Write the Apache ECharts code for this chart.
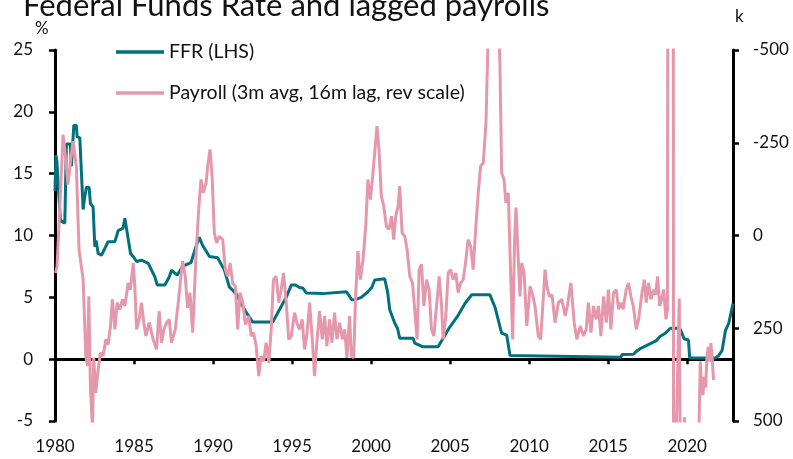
<!DOCTYPE html>
<html>
<head>
<meta charset="utf-8">
<script src="https://cdn.jsdelivr.net/npm/echarts@6/dist/echarts.min.js"></script>
<style>
  html, body { margin: 0; padding: 0; background: #fff; }
  #chart { width: 793px; height: 459px; }
</style>
</head>
<body>
<div id="chart"></div>
<script>
// x labels shown under the plot
const yearLabels = [1980, 1985, 1990, 1995, 2000, 2005, 2010, 2015, 2020];

// Fed funds rate, % (decimal year, value)
const ffrData = [
  [1980.00, 13.6], [1980.06, 16.5], [1980.12, 16.0], [1980.34, 11.2], [1980.62, 11.0],
  [1980.72, 17.4], [1980.97, 17.4], [1981.04, 15.6], [1981.19, 18.9], [1981.35, 18.9],
  [1981.40, 18.0], [1981.57, 17.9], [1981.78, 12.1], [1981.88, 13.1], [1981.99, 13.9],
  [1982.16, 13.9], [1982.24, 12.6], [1982.41, 12.3], [1982.52, 9.1], [1982.60, 9.6],
  [1982.73, 8.55], [1982.94, 8.4], [1983.25, 9.2], [1983.36, 9.5], [1983.79, 9.5],
  [1984.00, 10.4], [1984.31, 10.6], [1984.42, 11.4], [1984.52, 11.25], [1984.78, 8.55],
  [1984.95, 8.3], [1985.16, 7.9], [1985.47, 8.0], [1985.90, 7.75], [1986.11, 7.2],
  [1986.32, 6.65], [1986.47, 6.0], [1986.95, 6.0], [1987.23, 6.65], [1987.37, 7.2],
  [1987.55, 7.0], [1987.74, 6.8], [1988.07, 7.5], [1988.60, 7.8], [1988.92, 9.1],
  [1989.13, 9.85], [1989.34, 9.2], [1989.56, 8.75], [1989.77, 8.3], [1990.29, 8.2],
  [1990.72, 7.2], [1991.03, 5.85], [1991.46, 5.3], [1991.78, 4.5], [1992.09, 3.8],
  [1992.51, 3.0], [1993.78, 3.0], [1994.20, 4.0], [1994.63, 5.0], [1994.95, 6.0],
  [1995.22, 6.0], [1995.47, 5.8], [1995.68, 5.75], [1995.90, 5.35], [1996.95, 5.3],
  [1997.06, 5.45], [1998.43, 5.45], [1998.58, 5.2], [1998.77, 4.8], [1998.96, 4.8],
  [1999.38, 5.0], [1999.80, 5.45], [2000.04, 5.8], [2000.23, 6.4], [2000.34, 6.5],
  [2000.86, 6.5], [2001.05, 5.4], [2001.18, 4.0], [2001.50, 2.9], [2001.67, 2.5],
  [2001.81, 1.7], [2002.66, 1.7], [2002.76, 1.3], [2003.29, 1.0], [2004.24, 1.0],
  [2004.56, 1.7], [2004.98, 2.6], [2005.51, 3.55], [2005.94, 4.5], [2006.36, 5.2],
  [2007.52, 5.2], [2007.84, 4.2], [2008.05, 3.15], [2008.26, 2.1], [2008.58, 1.95],
  [2008.79, 0.3], [2008.88, 0.15], [2015.80, 0.15], [2015.88, 0.37], [2016.60, 0.4],
  [2016.80, 0.65], [2017.10, 0.9], [2017.42, 1.1], [2017.73, 1.3], [2018.05, 1.5],
  [2018.30, 1.85], [2018.62, 2.1], [2018.94, 2.5], [2019.38, 2.5], [2019.57, 2.4],
  [2019.70, 2.0], [2019.80, 1.65], [2020.08, 1.55], [2020.16, 0.1], [2021.80, 0.1],
  [2022.00, 0.3], [2022.21, 0.7], [2022.42, 2.3], [2022.63, 2.9], [2022.90, 4.5]
];

// payrolls, 3m avg, 16m lag, thousands (decimal year, value) - plotted on reversed scale
const payrollData = [
  [1980.04, 101], [1980.13, 83], [1980.30, -70], [1980.51, -272], [1980.68, -205],
  [1980.82, -137], [1980.97, -196], [1981.14, -254], [1981.35, -187], [1981.52, 38],
  [1981.78, 119], [1981.95, 325], [1982.05, 352], [1982.14, 164], [1982.24, 406],
  [1982.37, 520], [1982.45, 330], [1982.58, 424], [1982.73, 361], [1982.87, 316],
  [1983.04, 325], [1983.22, 280], [1983.36, 294], [1983.51, 244], [1983.63, 172],
  [1983.79, 253], [1983.93, 181], [1984.10, 200], [1984.27, 172], [1984.42, 190],
  [1984.63, 128], [1984.77, 146], [1984.95, 74], [1985.05, 137], [1985.16, 253],
  [1985.33, 226], [1985.47, 181], [1985.62, 235], [1985.75, 271], [1985.96, 235],
  [1986.21, 280], [1986.42, 307], [1986.59, 204], [1986.74, 289], [1986.89, 253],
  [1987.06, 235], [1987.23, 226], [1987.37, 289], [1987.61, 253], [1987.82, 172],
  [1988.07, 69], [1988.24, 110], [1988.39, 195], [1988.54, 154], [1988.71, 262],
  [1988.92, 56], [1989.09, -70], [1989.24, -151], [1989.38, -115], [1989.56, -142],
  [1989.66, -187], [1989.81, -232], [1989.94, -160], [1990.08, -7], [1990.23, 20],
  [1990.40, 2], [1990.61, 11], [1990.78, 92], [1990.93, 110], [1991.08, 74],
  [1991.24, 128], [1991.41, 137], [1991.56, 253], [1991.71, 154], [1991.88, 181],
  [1992.05, 240], [1992.26, 217], [1992.41, 271], [1992.56, 262], [1992.73, 298],
  [1992.89, 379], [1993.04, 325], [1993.21, 339], [1993.36, 289], [1993.53, 343],
  [1993.68, 253], [1993.82, 119], [1993.99, 110], [1994.16, 181], [1994.31, 146],
  [1994.46, 101], [1994.63, 181], [1994.79, 280], [1994.95, 271], [1995.16, 208],
  [1995.30, 235], [1995.47, 253], [1995.64, 226], [1995.79, 307], [1995.93, 271],
  [1996.11, 181], [1996.28, 280], [1996.42, 379], [1996.57, 289], [1996.74, 204],
  [1996.91, 280], [1997.06, 217], [1997.20, 298], [1997.37, 226], [1997.52, 289],
  [1997.69, 208], [1997.84, 280], [1998.01, 235], [1998.18, 280], [1998.33, 253],
  [1998.47, 330], [1998.64, 217], [1998.75, 325], [1998.90, 330], [1999.02, 164],
  [1999.17, 42], [1999.32, 119], [1999.49, 65], [1999.66, -25], [1999.80, -151],
  [1999.96, -97], [2000.08, -151], [2000.23, -223], [2000.37, -295], [2000.50, -232],
  [2000.65, -106], [2000.80, -79], [2000.97, -25], [2001.13, -16], [2001.29, -52],
  [2001.43, 11], [2001.56, -52], [2001.71, -79], [2001.81, -133], [2001.96, -7],
  [2002.13, 2], [2002.28, 38], [2002.45, 110], [2002.62, 128], [2002.76, 199],
  [2002.91, 280], [2003.04, 92], [2003.19, 78], [2003.34, 190], [2003.51, 119],
  [2003.67, 146], [2003.82, 253], [2003.97, 271], [2004.14, 190], [2004.31, 110],
  [2004.46, 190], [2004.56, 280], [2004.73, 217], [2004.88, 101], [2005.03, 92],
  [2005.19, 119], [2005.36, 101], [2005.51, 154], [2005.66, 128], [2005.83, 119],
  [2006.00, 65], [2006.14, 11], [2006.30, 29], [2006.46, 92], [2006.63, -25],
  [2006.78, -115], [2006.93, -187], [2007.10, -196], [2007.27, -304], [2007.42, -560],
  [2007.55, -680], [2007.70, -740], [2007.85, -720], [2007.98, -650], [2008.08, -560],
  [2008.15, -465], [2008.26, -169], [2008.41, -151], [2008.53, -88], [2008.68, -115],
  [2008.83, 101], [2008.96, 280], [2009.08, 11], [2009.17, -75], [2009.30, 50],
  [2009.42, 164], [2009.53, 74], [2009.68, 100], [2009.85, 244], [2010.06, 137],
  [2010.22, 160], [2010.37, 190], [2010.58, 271], [2010.73, 280], [2011.01, 92],
  [2011.14, 140], [2011.28, 164], [2011.45, 160], [2011.64, 235], [2011.85, 181],
  [2012.07, 172], [2012.28, 217], [2012.42, 190], [2012.64, 128], [2012.85, 235],
  [2013.02, 280], [2013.23, 244], [2013.44, 271], [2013.61, 253], [2013.75, 181],
  [2013.91, 262], [2014.07, 190], [2014.24, 226], [2014.39, 190], [2014.54, 271],
  [2014.71, 164], [2014.88, 235], [2015.02, 146], [2015.17, 253], [2015.34, 154],
  [2015.51, 146], [2015.66, 199], [2015.81, 181], [2015.95, 199], [2016.14, 146],
  [2016.29, 128], [2016.44, 164], [2016.59, 190], [2016.78, 253], [2016.93, 226],
  [2017.14, 154], [2017.29, 119], [2017.41, 181], [2017.56, 128], [2017.71, 172],
  [2017.88, 146], [2018.00, 160], [2018.13, 110], [2018.26, 190], [2018.39, 170],
  [2018.51, 146], [2018.66, 226], [2018.75, 200], [2018.83, -2500], [2018.92, -7000],
  [2019.00, -6000], [2019.08, -4000], [2019.17, 3000], [2019.25, 1500], [2019.33, 490],
  [2019.42, 320], [2019.50, 170], [2019.58, 700], [2019.67, 900], [2019.75, 700],
  [2019.83, 490], [2019.92, 650], [2020.00, 700], [2020.17, 650], [2020.33, 600],
  [2020.50, 620], [2020.67, 560], [2020.75, 520], [2020.83, 340], [2020.92, 420],
  [2021.00, 430], [2021.08, 380], [2021.17, 410], [2021.25, 330], [2021.33, 300],
  [2021.42, 340], [2021.50, 290], [2021.58, 330], [2021.67, 390]
];

const FONT = 'Lato';
const TEAL = '#00717d';
const PINK = '#e598ac';

var chartDom = document.getElementById('chart');
var myChart = echarts.init(chartDom);
var option;

option = {
    animation: false,
    title: {
        text: 'Federal Funds Rate and lagged payrolls',
        left: 18,
        top: -15,
        textStyle: { fontFamily: FONT, fontSize: 31, fontWeight: 'normal', color: '#111' }
    },
    legend: {
        orient: 'vertical',
        left: 116,
        top: 42,
        padding: 0,
        icon: 'rect',
        itemWidth: 48,
        itemHeight: 3.5,
        itemGap: 21,
        textStyle: { fontFamily: FONT, fontSize: 19.5, color: '#111' },
        data: ['FFR (LHS)', 'Payroll (3m avg, 16m lag, rev scale)']
    },
    grid: { left: 55, right: 60, top: 50, bottom: 38 },
    graphic: [
        { type: 'text', left: 35, top: 20, style: { text: '%', font: '17px ' + FONT, fill: '#111' } },
        { type: 'text', left: 735, top: 8, style: { text: 'k', font: '17px ' + FONT, fill: '#111' } }
    ],
    xAxis: [
        {
            type: 'value', min: 1980, max: 2022.9, interval: 5, position: 'bottom',
            axisLine: { onZero: true, lineStyle: { color: '#000', width: 3 } },
            axisTick: { length: 5, lineStyle: { color: '#000', width: 2.5 } },
            axisLabel: { show: false },
            splitLine: { show: false }
        },
        {
            type: 'value', min: 1980, max: 2022.9, interval: 5, position: 'bottom',
            axisLine: { show: false, onZero: false },
            axisTick: { show: false },
            axisLabel: {
                margin: 17,
                fontFamily: FONT, fontSize: 17, color: '#111',
                formatter: function (v) { return yearLabels.indexOf(v) >= 0 ? String(v) : ''; }
            },
            splitLine: { show: false }
        }
    ],
    yAxis: [
        {
            type: 'value', min: -5, max: 25, interval: 5, position: 'left',
            axisLine: { show: true, onZero: false, lineStyle: { color: '#000', width: 3 } },
            axisTick: { show: true, length: 6, lineStyle: { color: '#000', width: 2.5 } },
            axisLabel: { margin: 22, fontFamily: FONT, fontSize: 17, color: '#111' },
            splitLine: { show: false }
        },
        {
            type: 'value', min: -500, max: 500, interval: 250, inverse: true, position: 'right',
            axisLine: { show: true, onZero: false, lineStyle: { color: '#000', width: 3 } },
            axisTick: { show: true, length: 6, lineStyle: { color: '#000', width: 2.5 } },
            axisLabel: { margin: 20, fontFamily: FONT, fontSize: 17, color: '#111' },
            splitLine: { show: false }
        }
    ],
    series: [
        {
            name: 'FFR (LHS)',
            type: 'line',
            xAxisIndex: 0, yAxisIndex: 0,
            data: ffrData,
            symbol: 'none',
            lineStyle: { color: TEAL, width: 3 },
            itemStyle: { color: TEAL }
        },
        {
            name: 'Payroll (3m avg, 16m lag, rev scale)',
            type: 'line',
            xAxisIndex: 0, yAxisIndex: 1,
            data: payrollData,
            symbol: 'none',
            lineStyle: { color: PINK, width: 3 },
            itemStyle: { color: PINK }
        }
    ]
};

option && myChart.setOption(option);
</script>
</body>
</html>
